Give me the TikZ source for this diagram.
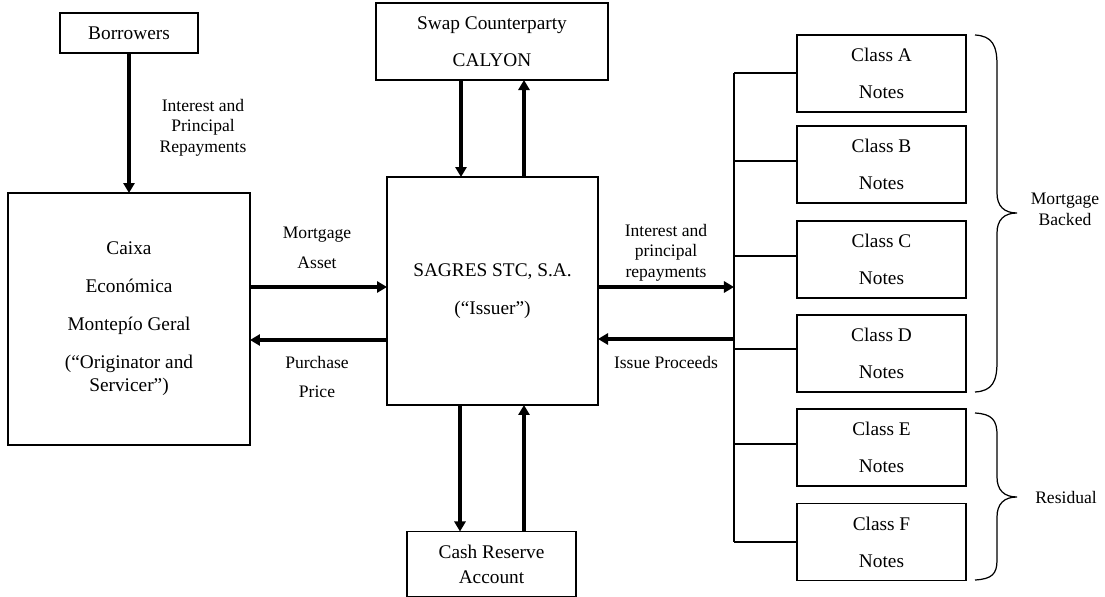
\documentclass[tikz,border=0pt]{standalone}
\usepackage{fontspec}
\setmainfont{Liberation Serif}
\usetikzlibrary{arrows.meta}
\begin{document}
\begin{tikzpicture}[x=0.02cm,y=-0.02cm,
  box/.style={draw,line width=0.75pt,inner sep=0pt,outer sep=0pt,align=center,font=\fontsize{11}{13.5}\selectfont},
  clsbox/.style={box,minimum width=3.38cm,minimum height=1.54cm},
  lab/.style={align=center,font=\fontsize{10}{11.7}\selectfont,inner sep=0pt},
  flow/.style={line width=1.8pt,-{Triangle[length=5.7pt,width=6.3pt]}},
  link/.style={line width=0.6pt},
  bracestyle/.style={line width=0.7pt}]
\useasboundingbox (0,0) rectangle (1105,597);

% boxes
\node[box,minimum width=2.76cm,minimum height=0.8cm] (borrowers) at (129,33) {Borrowers};
\node[box,minimum width=4.84cm,minimum height=5.04cm] (caixa) at (129,319)
  {Caixa\\[8pt]Económica\\[8pt]Montepío Geral\\[8pt](“Originator and\\Servicer”)};
\node[box,minimum width=4.64cm,minimum height=1.54cm] (swap) at (492,41.5)
  {Swap Counterparty\\[7.5pt]CALYON};
\node[box,minimum width=4.22cm,minimum height=4.56cm] (sagres) at (492.5,291)
  {SAGRES STC, S.A.\\[8.5pt](“Issuer”)};
\node[box,minimum width=3.38cm,minimum height=1.3cm] (cash) at (491.5,564)
  {Cash Reserve\\[0.7pt]Account};

\node[clsbox] (clsA) at (881.5,73.5) {Class A\\[7.5pt]Notes};
\node[clsbox] (clsB) at (881.5,164.5) {Class B\\[7.5pt]Notes};
\node[clsbox] (clsC) at (881.5,259.5) {Class C\\[7.5pt]Notes};
\node[clsbox] (clsD) at (881.5,353.5) {Class D\\[7.5pt]Notes};
\node[clsbox] (clsE) at (881.5,447.5) {Class E\\[7.5pt]Notes};
\node[clsbox] (clsF) at (881.5,542) {Class F\\[7.5pt]Notes};

% helper coordinates
\coordinate (yMA) at (0,287);
\coordinate (yPP) at (0,340);
\coordinate (xS1) at (461,0);
\coordinate (xS2) at (524,0);
\coordinate (xC1) at (460,0);
\coordinate (xC2) at (524,0);
\coordinate (busA) at (734,73);
\coordinate (busB) at (734,161);
\coordinate (busC) at (734,256);
\coordinate (busD) at (734,349);
\coordinate (busE) at (734,444);
\coordinate (busF) at (734,542);
\coordinate (busIn) at (734,287);
\coordinate (busOut) at (734,339);

% flows
\draw[flow] (borrowers.south) -- (caixa.north);
\draw[flow] (caixa.east |- yMA) -- (sagres.west |- yMA);
\draw[flow] (sagres.west |- yPP) -- (caixa.east |- yPP);
\draw[flow] (swap.south -| xS1) -- (sagres.north -| xS1);
\draw[flow] (sagres.north -| xS2) -- (swap.south -| xS2);
\draw[flow] (sagres.south -| xC1) -- (cash.north -| xC1);
\draw[flow] (cash.north -| xC2) -- (sagres.south -| xC2);
\draw[flow] (sagres.east |- busIn) -- (busIn);
\draw[flow] (busOut) -- (sagres.east |- busOut);

% bus and links
\draw[link] (busA) -- (busF);
\foreach \c in {A,B,C,D,E,F}{
  \draw[link] (bus\c) -- (bus\c -| cls\c.west);
}

% labels
\node[lab] (lblIP) at (203,127.5) {Interest and\\Principal\\Repayments};
\node[lab,font=\fontsize{10}{17}\selectfont] (lblMA) at (317,248) {Mortgage\\Asset};
\node[lab,font=\fontsize{10}{17}\selectfont] (lblPP) at (317,377) {Purchase\\Price};
\node[lab] (lblIR) at (666,252.5) {Interest and\\principal\\repayments};
\node[lab] (lblIss) at (666,362) {Issue Proceeds};
\node[lab] (lblMB) at (1065,209.5) {Mortgage\\Backed};
\node[lab] (lblRes) at (1066,497) {Residual};

% braces
\draw[bracestyle] (975,35) .. controls (992,36) and (997,45) .. (997,65)
  -- (997,193) .. controls (997,206) and (1004,213) .. (1017,213)
  .. controls (1004,213) and (997,220) .. (997,233)
  -- (997,362) .. controls (997,382) and (992,391) .. (975,392);
\draw[bracestyle] (975,413) .. controls (992,414) and (997,420) .. (997,435)
  -- (997,477) .. controls (997,490) and (1004,497) .. (1017,497)
  .. controls (1004,497) and (997,504) .. (997,517)
  -- (997,560) .. controls (997,574) and (992,579) .. (975,580);
\end{tikzpicture}
\end{document}
